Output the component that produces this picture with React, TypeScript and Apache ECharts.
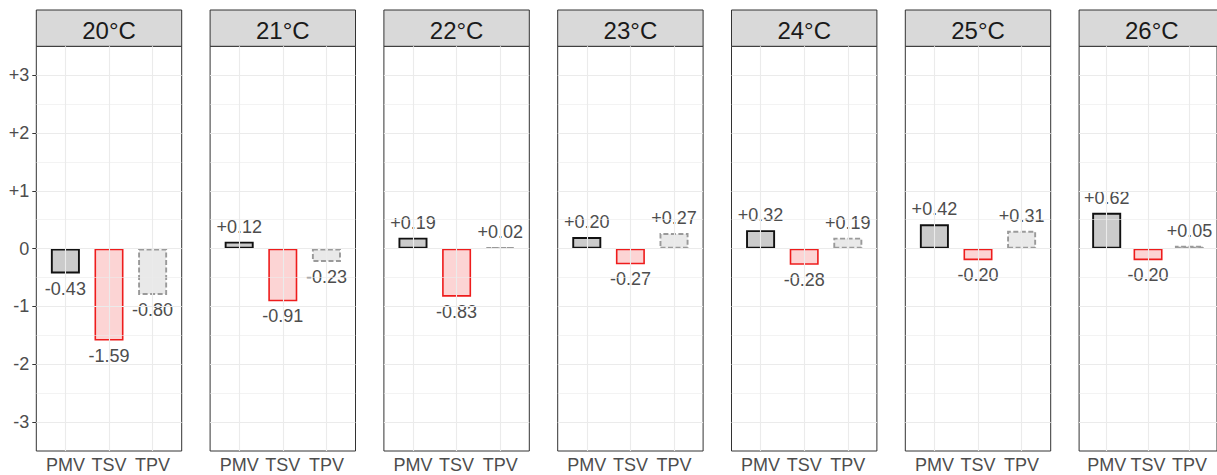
import React, { useEffect, useRef } from "react";
import * as echarts from "echarts";

// Facet titles (air temperature) and the three vote categories
const temps = ["20°C", "21°C", "22°C", "23°C", "24°C", "25°C", "26°C"];
const categories = ["PMV", "TSV", "TPV"];

// Mean votes per temperature
const pmv = [-0.43, 0.12, 0.19, 0.2, 0.32, 0.42, 0.62];
const tsv = [-1.59, -0.91, -0.83, -0.27, -0.28, -0.2, -0.2];
const tpv = [-0.8, -0.23, 0.02, 0.27, 0.19, 0.31, 0.05];

// Y axis tick values
const yTicks = [-3, -2, -1, 0, 1, 2, 3];

// Panel layout (px)
const PANEL_LEFT = 36.3;
const PANEL_STEP = 173.8;
const PANEL_W = 145.4;
const PANEL_TOP = 46.3;
const PANEL_H = 404.7;
const STRIP_TOP = 10;

const FONT = "'Liberation Sans', Arial, Helvetica, sans-serif";

const fmt = (v: number) => (v > 0 ? "+" + v.toFixed(2) : v.toFixed(2));

const barStyles = [
  { color: "rgba(185,185,185,0.75)", borderColor: "#111111", borderWidth: 1.9, borderType: "solid" },
  { color: "rgba(240,40,40,0.2)", borderColor: "#ee1c1c", borderWidth: 1.6, borderType: "solid" },
  { color: "rgba(200,200,200,0.4)", borderColor: "#9a9a9a", borderWidth: 1.9, borderType: [5, 2.5] },
];

function buildOption() {
  const grids: any[] = [];
  const xAxes: any[] = [];
  const yAxes: any[] = [];
  const series: any[] = [];
  const graphics: any[] = [];

  // gridline positions in axis units
  const hLines: { yAxis: number; lineStyle: any }[] = [];
  for (let k = -6; k <= 6; k++) {
    const v = k / 2;
    const major = k % 2 === 0;
    hLines.push({ yAxis: v, lineStyle: { width: major ? 1.1 : 0.6 } });
  }
  const vLines = [1, 2, 3].map((v) => ({ xAxis: v, lineStyle: { width: 1.1 } }));

  temps.forEach((t, i) => {
    const left = PANEL_LEFT + i * PANEL_STEP;
    grids.push({
      left,
      top: PANEL_TOP,
      width: PANEL_W,
      height: PANEL_H,
      show: true,
      borderColor: "#333333",
      borderWidth: 1,
      backgroundColor: "transparent",
      z: 3,
    });
    xAxes.push({
      gridIndex: i,
      type: "value",
      min: 1 / 3,
      max: 11 / 3,
      axisLine: { show: false },
      splitLine: { show: false },
      axisTick: {
        show: true,
        length: 4,
        customValues: [1, 2, 3],
        lineStyle: { color: "#333333", width: 1 },
      },
      axisLabel: {
        show: true,
        customValues: [1, 2, 3],
        formatter: (v: number) => categories[Math.round(v) - 1] ?? "",
        color: "#4d4d4d",
        fontSize: 18,
        fontFamily: FONT,
        margin: 5,
      },
    });
    yAxes.push({
      gridIndex: i,
      type: "value",
      min: -3.5,
      max: 3.5,
      interval: 0.5,
      axisLine: { show: false },
      splitLine: { show: false },
      axisTick: {
        show: i === 0,
        length: 4,
        customValues: yTicks,
        lineStyle: { color: "#333333", width: 1 },
      },
      axisLabel: {
        show: i === 0,
        customValues: yTicks,
        formatter: (v: number) =>
          Number.isInteger(v) ? (v > 0 ? "+" + v : String(v)) : "",
        color: "#4d4d4d",
        fontSize: 18,
        fontFamily: FONT,
        margin: 7,
      },
    });

    // background grid lines
    series.push({
      type: "line",
      xAxisIndex: i,
      yAxisIndex: i,
      data: [[2, 0]],
      symbol: "none",
      lineStyle: { opacity: 0 },
      silent: true,
      z: 1,
      markLine: {
        silent: true,
        symbol: ["none", "none"],
        label: { show: false },
        lineStyle: { color: "#ebebeb", type: "solid" },
        data: [...hLines, ...vLines],
        animation: false,
      },
    });

    const vals = [pmv[i], tsv[i], tpv[i]];
    series.push({
      type: "bar",
      xAxisIndex: i,
      yAxisIndex: i,
      barWidth: 29,
      z: 4,
      data: vals.map((v, j) => ({
        value: [j + 1, v],
        itemStyle: barStyles[j],
        label: {
          show: true,
          position: v >= 0 ? "top" : "bottom",
          distance: 6,
          formatter: () => fmt(v),
          color: "#4d4d4d",
          fontSize: 18,
          fontFamily: FONT,
        },
      })),
    });

    // facet strip
    graphics.push({
      type: "rect",
      shape: { x: left, y: STRIP_TOP, width: PANEL_W, height: PANEL_TOP - STRIP_TOP },
      style: { fill: "#d9d9d9", stroke: "#333333", lineWidth: 1 },
      z: 5,
    });
    graphics.push({
      type: "text",
      x: left + PANEL_W / 2,
      y: (STRIP_TOP + PANEL_TOP) / 2 + 2,
      style: {
        text: t,
        align: "center",
        verticalAlign: "middle",
        fontSize: 24,
        fontFamily: FONT,
        fill: "#1a1a1a",
      },
      z: 6,
    });
  });

  return {
    animation: false,
    backgroundColor: "#ffffff",
    textStyle: { fontFamily: FONT },
    grid: grids,
    xAxis: xAxes,
    yAxis: yAxes,
    series,
    graphic: graphics,
  };
}

export default function App() {
  const ref = useRef<HTMLDivElement>(null);
  useEffect(() => {
    if (!ref.current) return;
    const chart = echarts.init(ref.current, null, { renderer: "svg" });
    chart.setOption(buildOption() as any);
    return () => chart.dispose();
  }, []);
  return (
    <div
      ref={ref}
      style={{ position: "fixed", left: 0, top: 0, width: 1217, height: 475, background: "#fff" }}
    />
  );
}
